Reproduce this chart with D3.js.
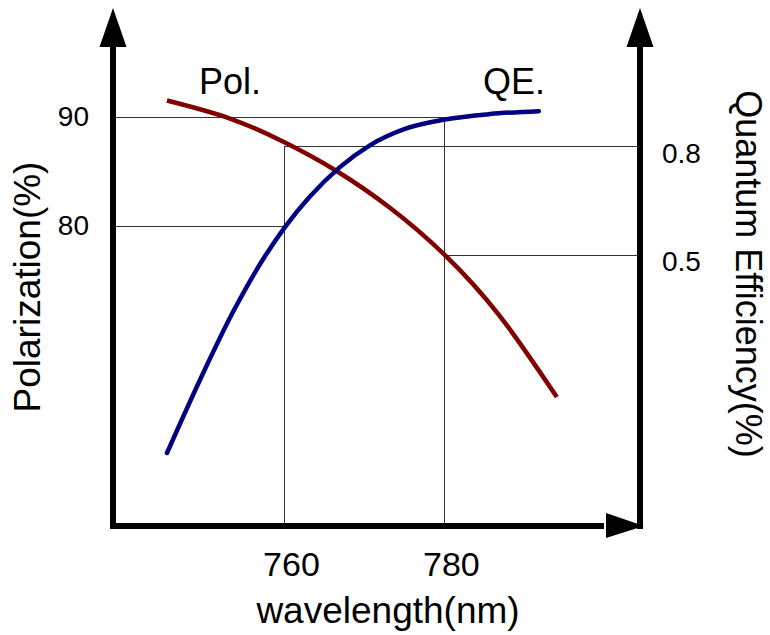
<!DOCTYPE html>
<html>
<head>
<meta charset="utf-8">
<script src="https://cdn.jsdelivr.net/npm/d3@7"></script>
<style>
  html, body { margin: 0; padding: 0; background: #fff; }
  svg { display: block; font-family: "Liberation Sans", Arial, sans-serif; }
</style>
</head>
<body>
<svg id="chart" width="770" height="635"></svg>
<script>
// ---- data ----
const polWavelength = [745.25, 753.125, 760.0, 766.25, 773.125, 780.0, 786.875, 794.0];
const polValues     = [91.51,  89.86,   87.66, 85.14,  81.68,   77.34, 71.74,   64.31];

const qeWavelength  = [745.25, 749.375, 753.5, 757.125, 760.0, 763.125, 766.875, 770.625, 775.0, 780.0, 785.625, 791.75];
const qeValues      = [-0.045, 0.156,   0.343, 0.4835,  0.577, 0.661,   0.742,   0.802,   0.847, 0.873, 0.888,   0.896];

const xTicks      = [760, 780];
const leftTicks   = [80, 90];
const rightTicks  = [0.5, 0.8];
const rightTickLabels = ["0.5", "0.8"];

// reference guide lines: wavelength, polarization level, QE level
const guideWavelength = [760, 780];
const guidePol        = [80, 90];
const guideQE         = [0.8, 0.5];

const seriesNames = ["Pol.", "QE."];
const xTitle = "wavelength(nm)";
const leftTitle = "Polarization(%)";
const rightTitle = "Quantum Efficiency(%)";

// ---- layout ----
const svg = d3.select("#chart");
const frame = { left: 113, right: 640, top: 8, bottom: 526 };

const x  = d3.scaleLinear().domain([738.5, 804.4]).range([frame.left, frame.right]);
const yL = d3.scaleLinear().domain([52.48, 100]).range([frame.bottom, frame.top]);
const yR = d3.scaleLinear().domain([-0.246, 1.18]).range([frame.bottom, frame.top]);

const gridColor = "#333";

// guide lines
guideWavelength.forEach((wl, i) => {
  const gx = x(wl), yl = yL(guidePol[i]), yr = yR(guideQE[i]);
  svg.append("line").attr("x1", frame.left).attr("x2", gx).attr("y1", yl).attr("y2", yl)
     .attr("stroke", gridColor).attr("stroke-width", 1).attr("shape-rendering", "crispEdges");
  svg.append("line").attr("x1", gx).attr("x2", frame.right).attr("y1", yr).attr("y2", yr)
     .attr("stroke", gridColor).attr("stroke-width", 1).attr("shape-rendering", "crispEdges");
  svg.append("line").attr("x1", gx).attr("x2", gx).attr("y1", frame.bottom).attr("y2", Math.min(yl, yr))
     .attr("stroke", gridColor).attr("stroke-width", 1).attr("shape-rendering", "crispEdges");
});

// curves
const polData = polWavelength.map((w, i) => [w, polValues[i]]);
const qeData  = qeWavelength.map((w, i) => [w, qeValues[i]]);

svg.append("path")
  .datum(polData)
  .attr("fill", "none").attr("stroke", "#800000").attr("stroke-width", 4.5)
  .attr("d", d3.line().x(d => x(d[0])).y(d => yL(d[1])).curve(d3.curveNatural));

svg.append("path")
  .datum(qeData)
  .attr("fill", "none").attr("stroke", "#000080").attr("stroke-width", 4.5)
  .attr("stroke-linecap", "round")
  .attr("d", d3.line().x(d => x(d[0])).y(d => yR(d[1])).curve(d3.curveMonotoneX));

// axis lines with arrows
const axisW = 6;
svg.append("line").attr("x1", frame.left).attr("x2", frame.left)
   .attr("y1", frame.bottom + 3).attr("y2", frame.top + 36).attr("stroke", "#000").attr("stroke-width", axisW);
svg.append("line").attr("x1", frame.right).attr("x2", frame.right)
   .attr("y1", frame.bottom + 3).attr("y2", frame.top + 36).attr("stroke", "#000").attr("stroke-width", axisW);
svg.append("line").attr("x1", frame.left - 3).attr("x2", frame.right - 36)
   .attr("y1", frame.bottom).attr("y2", frame.bottom).attr("stroke", "#000").attr("stroke-width", axisW);

function upArrow(cx) {
  svg.append("path")
    .attr("d", `M${cx},${frame.top} L${cx - 13.5},${frame.top + 39} L${cx + 13.5},${frame.top + 39} Z`)
    .attr("fill", "#000");
}
upArrow(frame.left);
upArrow(frame.right);
svg.append("path")
  .attr("d", `M${frame.right + 4},${frame.bottom} L${frame.right - 34},${frame.bottom - 13} L${frame.right - 34},${frame.bottom + 12} Z`)
  .attr("fill", "#000");

// tick labels via d3 axes
const gL = svg.append("g").attr("transform", `translate(${frame.left},0)`)
  .call(d3.axisLeft(yL).tickValues(leftTicks).tickSize(0).tickPadding(24).tickFormat(d3.format("d")));
gL.select(".domain").remove();
gL.selectAll("text").attr("font-size", 28).attr("font-family", "Liberation Sans, Arial, sans-serif").attr("fill", "#000");

const gR = svg.append("g").attr("transform", `translate(${frame.right},7)`)
  .call(d3.axisRight(yR).tickValues(rightTicks).tickSize(0).tickPadding(22)
        .tickFormat((d, i) => rightTickLabels[i]));
gR.select(".domain").remove();
gR.selectAll("text").attr("font-size", 28).attr("font-family", "Liberation Sans, Arial, sans-serif").attr("fill", "#000");

const gX = svg.append("g").attr("transform", `translate(6,${frame.bottom})`)
  .call(d3.axisBottom(x).tickValues(xTicks).tickSize(0).tickPadding(26).tickFormat(d3.format("d")));
gX.select(".domain").remove();
gX.selectAll("text").attr("font-size", 34).attr("font-family", "Liberation Sans, Arial, sans-serif").attr("fill", "#000");

// titles
svg.append("text").attr("x", 388).attr("y", 623).attr("text-anchor", "middle")
   .attr("font-size", 37).text(xTitle);
svg.append("text").attr("transform", "translate(40,287) rotate(-90)").attr("text-anchor", "middle")
   .attr("font-size", 37).text(leftTitle);
svg.append("text").attr("transform", "translate(736,274) rotate(90)").attr("text-anchor", "middle")
   .attr("font-size", 36).text(rightTitle);

// series labels
svg.append("text").attr("x", 199).attr("y", 94).attr("font-size", 36).text(seriesNames[0]);
svg.append("text").attr("x", 483).attr("y", 94).attr("font-size", 36).text(seriesNames[1]);
</script>
</body>
</html>
